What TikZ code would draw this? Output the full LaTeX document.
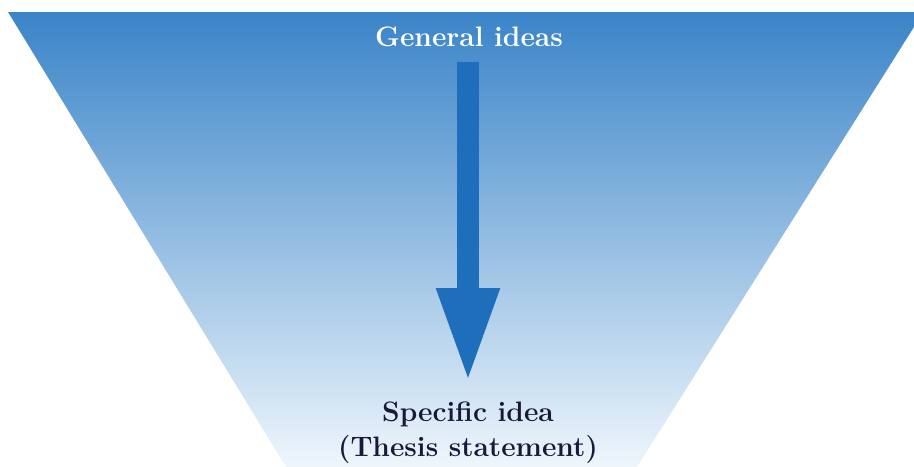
\documentclass[tikz,border=0pt]{standalone}
\usepackage{xcolor}
\usepackage{tikz}
\usetikzlibrary{arrows.meta, positioning, calc}
\definecolor{funneltop}{HTML}{3A84C8}
\definecolor{funnelmid}{HTML}{8AB7E8}
\definecolor{funnellow}{HTML}{EEF6FC}
\definecolor{arrowblue}{HTML}{1E6EBB}
\definecolor{thesisink}{HTML}{1A1838}

\begin{document}
\begin{tikzpicture}[x=0.02cm, y=-0.02cm,
        label/.style={font=\fontsize{16}{20}\selectfont\bfseries, align=center, inner sep=0pt},
        flow/.style={-{Triangle[width=1.14cm, length=1.92cm]}, line width=0.44cm, arrowblue}
    ]
        \useasboundingbox (0,0) rectangle (914,467);
        % funnel, fading out towards the bottom
        \shade [top color=funneltop, middle color=funnelmid, bottom color=funnellow]
            (8,12) -- (914,12) -- (914,27) -- (637,467) -- (286,467) -- cycle;

        \node (general) [label, text=white] at (469,37) {General ideas};
        \node (specific) [label, text=thesisink, anchor=north] at (468,401) {Specific idea\\(Thesis statement)};

        \draw [flow] ([yshift=-0.3cm]general.south -| specific.north) -- ([yshift=0.34cm]specific.north);
    \end{tikzpicture}
\end{document}
